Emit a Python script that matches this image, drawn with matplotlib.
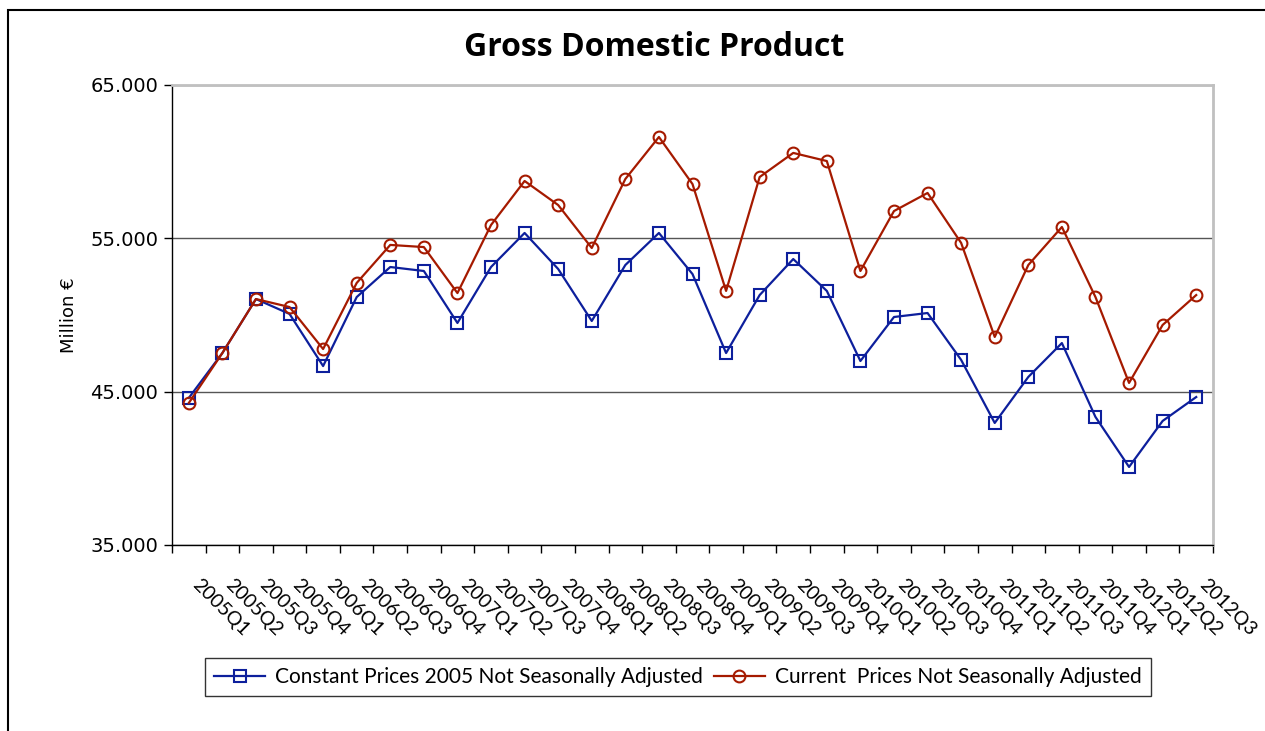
import matplotlib
matplotlib.use("Agg")
import matplotlib.pyplot as plt
from matplotlib.patches import Rectangle
from matplotlib.ticker import FuncFormatter, FixedLocator

# quarters 2005Q1 .. 2012Q3
quarters = ["2005Q1", "2005Q2", "2005Q3", "2005Q4",
            "2006Q1", "2006Q2", "2006Q3", "2006Q4",
            "2007Q1", "2007Q2", "2007Q3", "2007Q4",
            "2008Q1", "2008Q2", "2008Q3", "2008Q4",
            "2009Q1", "2009Q2", "2009Q3", "2009Q4",
            "2010Q1", "2010Q2", "2010Q3", "2010Q4",
            "2011Q1", "2011Q2", "2011Q3", "2011Q4",
            "2012Q1", "2012Q2", "2012Q3"]

# million euro
constant_prices = [44590, 47520, 51040, 50070, 46670, 51170, 53130, 52870,
                   49480, 53130, 55350, 53000, 49610, 53260, 55350, 52670,
                   47520, 51300, 53650, 51570, 47000, 49870, 50130, 47070,
                   42960, 45960, 48170, 43350, 40090, 43090, 44650]
current_prices = [44260, 47520, 51040, 50520, 47780, 52090, 54570, 54430,
                  51430, 55870, 58740, 57170, 54370, 58870, 61610, 58540,
                  51570, 59000, 60570, 60040, 52870, 56780, 57960, 54700,
                  48570, 53260, 55740, 51170, 45570, 49350, 51300]

blue = "#0D1F9C"
red = "#A51A00"

fig = plt.figure(figsize=(12.65, 7.31), dpi=100)
ax = fig.add_axes([172/1265, 1-545/731, (1213-172)/1265, (545-85)/731])

# outer chart border (runs off the right and bottom edge like the original)
fig.patches.append(Rectangle((8/1265, -0.1), 1.2, 1-10/731+0.1,
                             transform=fig.transFigure, fill=False,
                             edgecolor="black", lw=1.5, zorder=0))

x = list(range(len(quarters)))
ax.plot(x, constant_prices, color=blue, lw=1.6, marker="s", ms=8.5,
        mfc="none", mec=blue, mew=1.5,
        label="Constant Prices 2005 Not Seasonally Adjusted", zorder=3)
ax.plot(x, current_prices, color=red, lw=1.6, marker="o", ms=8.5,
        mfc="none", mec=red, mew=1.5,
        label="Current  Prices Not Seasonally Adjusted", zorder=3)

ax.set_xlim(-0.5, len(quarters) - 0.5)
ax.set_ylim(35000, 65000)

ax.set_yticks([35000, 45000, 55000, 65000])
ax.yaxis.set_major_formatter(FuncFormatter(lambda v, p: f"{int(v):,}".replace(",", ".")))
ax.tick_params(axis="y", direction="out", length=6, width=1, labelsize=14, pad=4)
for t in ax.get_yticklabels():
    t.set_fontfamily("DejaVu Sans")
ax.grid(axis="y", color="#555555", lw=1)
ax.set_axisbelow(True)

# category labels in the middle, tick marks on the boundaries
ax.set_xticks(x)
ax.set_xticklabels(quarters, rotation=-45, ha="left", va="top",
                   fontsize=14, fontfamily="Lato")
ax.tick_params(axis="x", which="major", length=0, pad=22)
ax.xaxis.set_minor_locator(FixedLocator([i - 0.5 for i in range(len(quarters) + 1)]))
ax.tick_params(axis="x", which="minor", direction="out", length=6, width=1)

for s in ["top", "right"]:
    ax.spines[s].set_color("#C0C0C0")
    ax.spines[s].set_linewidth(2)
for s in ["left", "bottom"]:
    ax.spines[s].set_color("black")
    ax.spines[s].set_linewidth(1)

ax.set_ylabel("Million €", fontsize=13, labelpad=9)

fig.text(654/1265, 1-48/731, "Gross Domestic Product", ha="center", va="center",
         fontsize=23, fontweight="bold", fontfamily="Open Sans")

leg = fig.legend(loc="center", bbox_to_anchor=(678/1265, 1-677/731), ncol=2,
                 frameon=True, fancybox=False, edgecolor="black",
                 prop={"family": "Lato", "size": 15}, handlelength=2.45,
                 columnspacing=0.5, handletextpad=0.5, borderpad=0.45,
                 borderaxespad=0)
leg.get_frame().set_linewidth(1)

fig.savefig("out.png", dpi=100)
